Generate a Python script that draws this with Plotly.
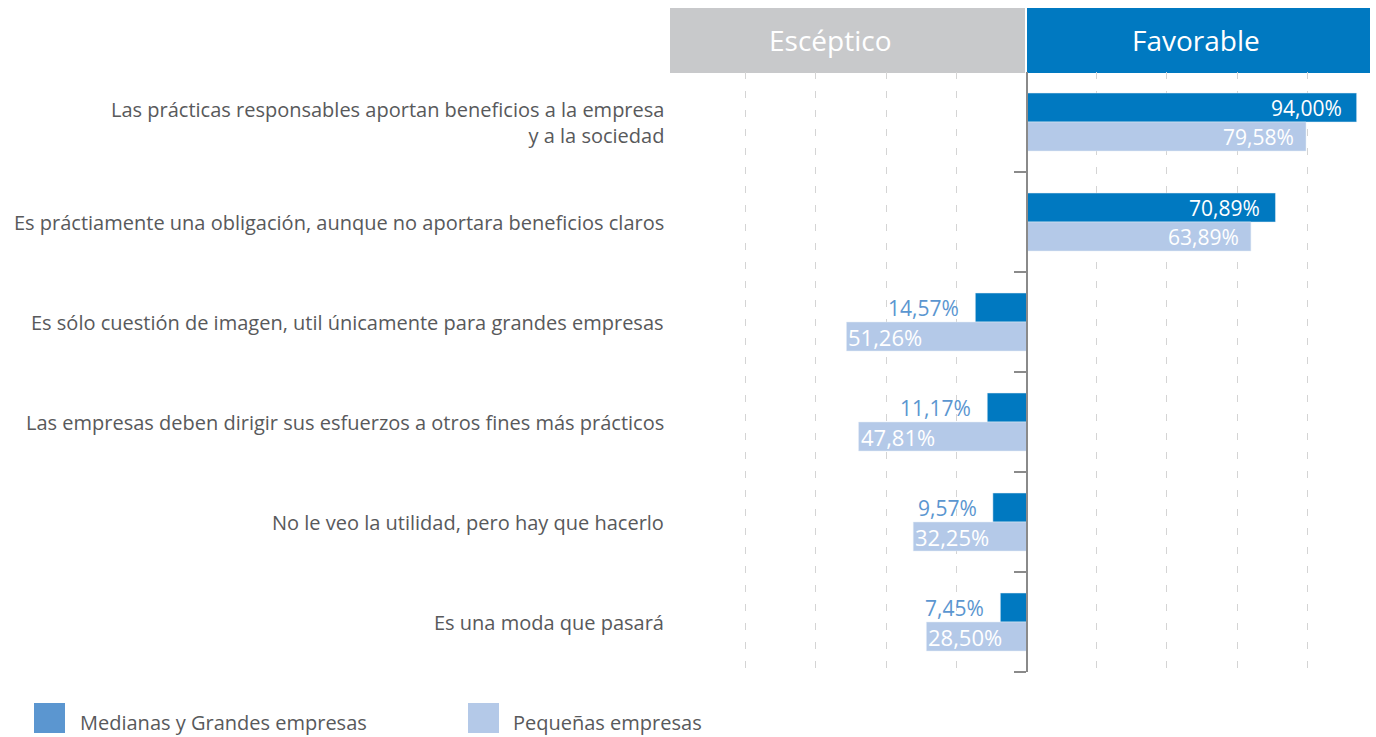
import plotly.graph_objects as go

categories = [
    "Las prácticas responsables aportan beneficios a la empresa<br>y a la sociedad",
    "Es práctiamente una obligación, aunque no aportara beneficios claros",
    "Es sólo cuestión de imagen, util únicamente para grandes empresas",
    "Las empresas deben dirigir sus esfuerzos a otros fines más prácticos",
    "No le veo la utilidad, pero hay que hacerlo",
    "Es una moda que pasará",
]
# sign: +1 favorable, -1 escéptico
side = [1, 1, -1, -1, -1, -1]
medianas_grandes = [94.00, 70.89, 14.57, 11.17, 9.57, 7.45]
pequenas = [79.58, 63.89, 51.26, 47.81, 32.25, 28.50]
series_names = ["Medianas y Grandes empresas", "Pequeñas empresas"]
header_left = "Escéptico"
header_right = "Favorable"

DARK = "#0079c1"
LIGHT = "#b4c9e8"
LEGEND_DARK = "#5b96d0"
OUT_TXT = "#5b96d0"
GRAY_TXT = "#58595b"
CAT_FONT = "Open Sans"
VAL_FONT = "Open Sans"

W, H = 1376, 737
ml, mr, mt, mb = 670, 6, 72, 65
pw, ph = W - ml - mr, H - mt - mb

def px_to_paper_x(px):
    return (px - ml) / pw

def px_to_paper_y(py):
    return (H - mb - py) / ph

ypos = list(range(len(categories)))
mg_signed = [s * v for s, v in zip(side, medianas_grandes)]
pq_signed = [s * v for s, v in zip(side, pequenas)]

def fmt(v):
    return f"{v:.2f}".replace(".", ",") + "%"

fig = go.Figure()
fig.add_trace(go.Bar(y=ypos, x=mg_signed, orientation="h", marker_color=DARK,
                     name=series_names[0], showlegend=False, hoverinfo="skip"))
fig.add_trace(go.Bar(y=ypos, x=pq_signed, orientation="h", marker_color=LIGHT,
                     name=series_names[1], showlegend=False, hoverinfo="skip"))

ann = []
bw = 0.29
for i in ypos:
    v = mg_signed[i]
    yd = i - bw / 2
    if v > 0:
        ann.append(dict(x=v, y=yd, text=fmt(abs(v)), xanchor="right", yanchor="middle", xshift=-13,
                        showarrow=False, font=dict(family=VAL_FONT, size=21, color="white")))
    else:
        ann.append(dict(x=v, y=yd, text=fmt(abs(v)), xanchor="right", yanchor="middle", xshift=-14,
                        showarrow=False, font=dict(family=VAL_FONT, size=21, color=OUT_TXT)))
    v = pq_signed[i]
    yl = i + bw / 2
    if v > 0:
        ann.append(dict(x=v, y=yl, text=fmt(abs(v)), xanchor="right", yanchor="middle", xshift=-10,
                        showarrow=False, font=dict(family=VAL_FONT, size=21, color="white")))
    else:
        ann.append(dict(x=v, y=yl, text=fmt(abs(v)), xanchor="left", yanchor="middle", xshift=0,
                        showarrow=False, font=dict(family=VAL_FONT, size=22, color="white")))
    ann.append(dict(x=0, xref="paper", y=i, text=categories[i], xanchor="right", yanchor="middle",
                    xshift=-4, align="right", showarrow=False,
                    font=dict(family=CAT_FONT, size=20, color=GRAY_TXT)))

# header texts
ann.append(dict(x=px_to_paper_x(830), xref="paper", y=px_to_paper_y(40), yref="paper",
                text=header_left, xanchor="center", yanchor="middle", showarrow=False,
                font=dict(family=CAT_FONT, size=28, color="white")))
ann.append(dict(x=px_to_paper_x(1196), xref="paper", y=px_to_paper_y(40), yref="paper",
                text=header_right, xanchor="center", yanchor="middle", showarrow=False,
                font=dict(family=CAT_FONT, size=28, color="white")))

shapes = [
    dict(type="rect", xref="paper", yref="paper", x0=0, x1=px_to_paper_x(1025),
         y0=px_to_paper_y(73), y1=px_to_paper_y(8),
         fillcolor="#c8c9cb", line_width=0, layer="below"),
    dict(type="rect", xref="paper", yref="paper", x0=px_to_paper_x(1027), x1=1.0,
         y0=px_to_paper_y(73), y1=px_to_paper_y(8),
         fillcolor=DARK, line_width=0, layer="below"),
]

legend_items = [(34, LEGEND_DARK, 78, series_names[0]), (468, LIGHT, 511, series_names[1])]
for sx, col, tx, name in legend_items:
    shapes.append(dict(type="rect", xref="paper", yref="paper",
                       x0=px_to_paper_x(sx), x1=px_to_paper_x(sx + 31),
                       y0=px_to_paper_y(733), y1=px_to_paper_y(703),
                       fillcolor=col, line_width=0))
    ann.append(dict(x=px_to_paper_x(tx), xref="paper", y=px_to_paper_y(722), yref="paper",
                    text=name, xanchor="left", yanchor="middle", showarrow=False,
                    font=dict(family=CAT_FONT, size=20, color=GRAY_TXT)))

fig.update_layout(
    width=W, height=H,
    margin=dict(l=ml, r=mr, t=mt, b=mb),
    paper_bgcolor="white", plot_bgcolor="white",
    barmode="group", bargap=0.42, bargroupgap=0,
    annotations=ann, shapes=shapes,
    xaxis=dict(range=[-101.5, 97.8], tickvals=[-80, -60, -40, -20, 20, 40, 60, 80],
               showticklabels=False, showgrid=True, gridcolor="#d4d4d4", gridwidth=1,
               griddash="7px,12px", zeroline=False, showline=False, fixedrange=True),
    yaxis=dict(range=[5.5, -0.5], anchor="free", position=(1027 - ml) / pw,
               showline=True, linecolor="#8a8a8a", linewidth=1.5,
               tickvals=[0.5, 1.5, 2.5, 3.5, 4.5, 5.5], ticks="outside", ticklen=12,
               tickcolor="#8a8a8a", tickwidth=1.5, showticklabels=False,
               showgrid=False, zeroline=False, fixedrange=True),
)

fig.write_html("out.html", config={"displayModeBar": False},
               post_script="document.body.style.margin='0';document.body.style.overflow='hidden';")
